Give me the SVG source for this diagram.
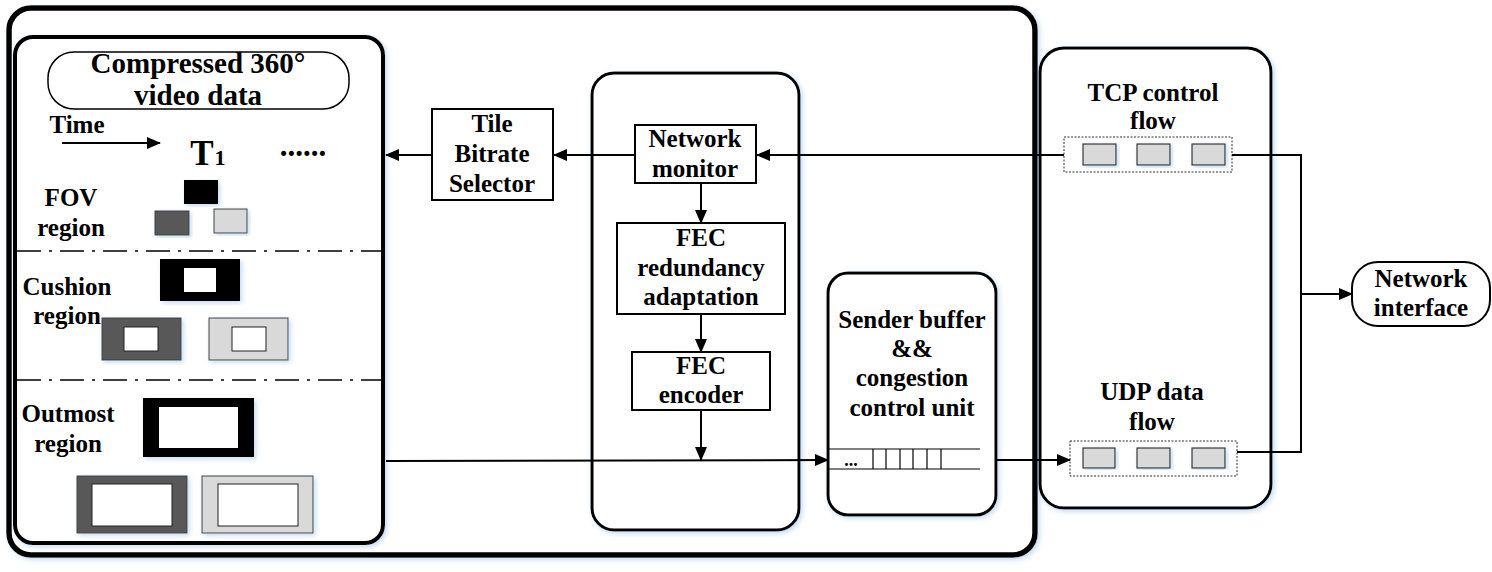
<svg xmlns="http://www.w3.org/2000/svg" width="1492" height="572" viewBox="0 0 1492 572">
<defs>
<filter id="glow" x="-10%" y="-10%" width="120%" height="120%">
<feDropShadow dx="2" dy="2" stdDeviation="2.5" flood-color="#9dc3e6" flood-opacity="0.6"/>
</filter>
<marker id="arr" markerWidth="14" markerHeight="12" refX="13" refY="6" orient="auto" markerUnits="userSpaceOnUse">
<path d="M0,0 L14,6 L0,12 z" fill="#000"/>
</marker>
</defs>
<style>
text{font-family:"Liberation Serif","Times New Roman",serif;font-weight:bold;font-size:25px;fill:#000;text-anchor:middle}
.box{fill:#fff;stroke:#000;stroke-width:2}
.panel{fill:#fff;stroke:#000;stroke-width:3}
.conn{fill:none;stroke:#000;stroke-width:2}
.dk{fill:#595959;stroke:#404040;stroke-width:1}
.lt{fill:#d9d9d9;stroke:#404040;stroke-width:1}
.wh{fill:#fff;stroke:#222;stroke-width:1}
.pk{fill:#d9d9d9;stroke:#333;stroke-width:1.2}
.dot{fill:#fff;stroke:#333;stroke-width:1;stroke-dasharray:2 1.5}
.dd{stroke:#000;stroke-width:1.5;stroke-dasharray:24 8 3 8}
</style>
<rect width="1492" height="572" fill="#fff"/>

<g id="sender">
<rect x="9" y="8" width="1026" height="547" rx="22" fill="#fff" stroke="#000" stroke-width="5.5" filter="url(#glow)"/>
</g>

<g id="video-panel">
<rect x="15" y="37" width="368" height="506" rx="18" fill="#fff" stroke="#000" stroke-width="4" filter="url(#glow)"/>
<rect x="48" y="52" width="301" height="57" rx="26" fill="#fff" stroke="#000" stroke-width="1.5"/>
<text x="198" y="73" style="font-size:29px">Compressed 360°</text>
<text x="198" y="105" style="font-size:29px">video data</text>
<text x="77" y="133">Time</text>
<line x1="62" y1="143" x2="160" y2="143" stroke="#000" stroke-width="2" marker-end="url(#arr)"/>
<text x="202" y="165" style="font-size:35px">T</text>
<text x="220" y="165" style="font-size:22px">1</text>
<text x="303" y="156" style="font-size:31px">......</text>
<text x="71" y="206">FOV</text>
<text x="71" y="236">region</text>
<rect x="184" y="180" width="34" height="24" fill="#000" filter="url(#glow)"/>
<rect x="155" y="211" width="34" height="24" class="dk" filter="url(#glow)"/>
<rect x="214" y="209" width="33" height="24" class="lt" filter="url(#glow)"/>
<line x1="17" y1="251" x2="382" y2="251" class="dd"/>
<text x="67" y="295">Cushion</text>
<text x="67" y="324">region</text>
<rect x="160" y="259" width="80" height="42" fill="#000" filter="url(#glow)"/>
<rect x="184" y="268" width="32" height="24" fill="#fff"/>
<rect x="102" y="318" width="79" height="42" class="dk" filter="url(#glow)"/>
<rect x="124" y="327" width="34" height="24" class="wh"/>
<rect x="209" y="318" width="79" height="42" class="lt" filter="url(#glow)"/>
<rect x="232" y="327" width="34" height="24" class="wh"/>
<line x1="17" y1="380" x2="382" y2="380" class="dd"/>
<text x="68" y="422">Outmost</text>
<text x="68" y="452">region</text>
<rect x="143" y="398" width="111" height="59" fill="#000" filter="url(#glow)"/>
<rect x="159" y="407" width="79" height="41" fill="#fff"/>
<rect x="77" y="476" width="110" height="57" class="dk" filter="url(#glow)"/>
<rect x="92" y="484" width="80" height="42" class="wh"/>
<rect x="202" y="476" width="111" height="57" class="lt" filter="url(#glow)"/>
<rect x="218" y="484" width="80" height="42" class="wh"/>
</g>

<g id="tile-selector">
<rect x="432" y="109" width="121" height="91" class="box"/>
<text x="492" y="132">Tile</text>
<text x="492" y="162">Bitrate</text>
<text x="492" y="192">Selector</text>
</g>

<g id="fec-panel">
<rect x="592" y="73" width="207" height="457" rx="22" class="panel" filter="url(#glow)"/>
</g>

<g id="network-monitor">
<rect x="635" y="125" width="121" height="58" class="box"/>
<text x="695" y="147">Network</text>
<text x="695" y="177">monitor</text>
</g>

<g id="fec-redundancy">
<rect x="617" y="223" width="168" height="91" class="box"/>
<text x="701" y="246">FEC</text>
<text x="701" y="276">redundancy</text>
<text x="701" y="305">adaptation</text>
</g>

<g id="fec-encoder">
<rect x="632" y="352" width="138" height="58" class="box"/>
<text x="701" y="374">FEC</text>
<text x="701" y="403">encoder</text>
</g>

<g id="sender-buffer">
<rect x="828" y="273" width="168" height="242" rx="20" class="panel" filter="url(#glow)"/>
<text x="912" y="328">Sender buffer</text>
<text x="912" y="357">&amp;&amp;</text>
<text x="912" y="386">congestion</text>
<text x="912" y="416">control unit</text>
<line x1="829" y1="449" x2="980" y2="449" stroke="#000" stroke-width="1.2"/>
<line x1="829" y1="469" x2="980" y2="469" stroke="#000" stroke-width="1.2"/>
<line x1="873" y1="449" x2="873" y2="469" stroke="#000" stroke-width="1.2"/>
<line x1="886" y1="449" x2="886" y2="469" stroke="#000" stroke-width="1.2"/>
<line x1="900" y1="449" x2="900" y2="469" stroke="#000" stroke-width="1.2"/>
<line x1="913" y1="449" x2="913" y2="469" stroke="#000" stroke-width="1.2"/>
<line x1="927" y1="449" x2="927" y2="469" stroke="#000" stroke-width="1.2"/>
<line x1="941" y1="449" x2="941" y2="469" stroke="#000" stroke-width="1.2"/>
<text x="851" y="466" style="font-size:18px">...</text>
</g>

<g id="transport-panel">
<rect x="1040" y="48" width="231" height="460" rx="24" class="panel" filter="url(#glow)"/>
</g>

<g id="tcp-flow">
<text x="1153" y="101">TCP control</text>
<text x="1153" y="129">flow</text>
<rect x="1064" y="137" width="168" height="35" class="dot"/>
<rect x="1083" y="144" width="33" height="21" class="pk" filter="url(#glow)"/>
<rect x="1137" y="144" width="33" height="21" class="pk" filter="url(#glow)"/>
<rect x="1192" y="144" width="33" height="21" class="pk" filter="url(#glow)"/>
</g>

<g id="udp-flow">
<text x="1152" y="400">UDP data</text>
<text x="1152" y="430">flow</text>
<rect x="1070" y="441" width="167" height="35" class="dot"/>
<rect x="1083" y="448" width="32" height="20" class="pk" filter="url(#glow)"/>
<rect x="1137" y="448" width="33" height="20" class="pk" filter="url(#glow)"/>
<rect x="1192" y="448" width="33" height="20" class="pk" filter="url(#glow)"/>
</g>

<g id="network-interface">
<rect x="1352" y="262" width="138" height="64" rx="26" fill="#fff" stroke="#000" stroke-width="2"/>
<text x="1421" y="287">Network</text>
<text x="1421" y="316">interface</text>
</g>

<g id="connectors">
<line x1="1064" y1="155" x2="757" y2="155" class="conn" marker-end="url(#arr)"/>
<line x1="635" y1="155" x2="554" y2="155" class="conn" marker-end="url(#arr)"/>
<line x1="432" y1="155" x2="386" y2="155" class="conn" marker-end="url(#arr)"/>
<line x1="701" y1="183" x2="701" y2="223" class="conn" marker-end="url(#arr)"/>
<line x1="701" y1="314" x2="701" y2="352" class="conn" marker-end="url(#arr)"/>
<line x1="701" y1="410" x2="701" y2="460" class="conn" marker-end="url(#arr)"/>
<line x1="386" y1="461" x2="828" y2="460" class="conn" marker-end="url(#arr)"/>
<line x1="996" y1="460" x2="1070" y2="460" class="conn" marker-end="url(#arr)"/>
<polyline points="1232,155 1301,155 1301,452 1237,452" class="conn"/>
<line x1="1301" y1="294" x2="1352" y2="294" class="conn" marker-end="url(#arr)"/>
</g>
</svg>
